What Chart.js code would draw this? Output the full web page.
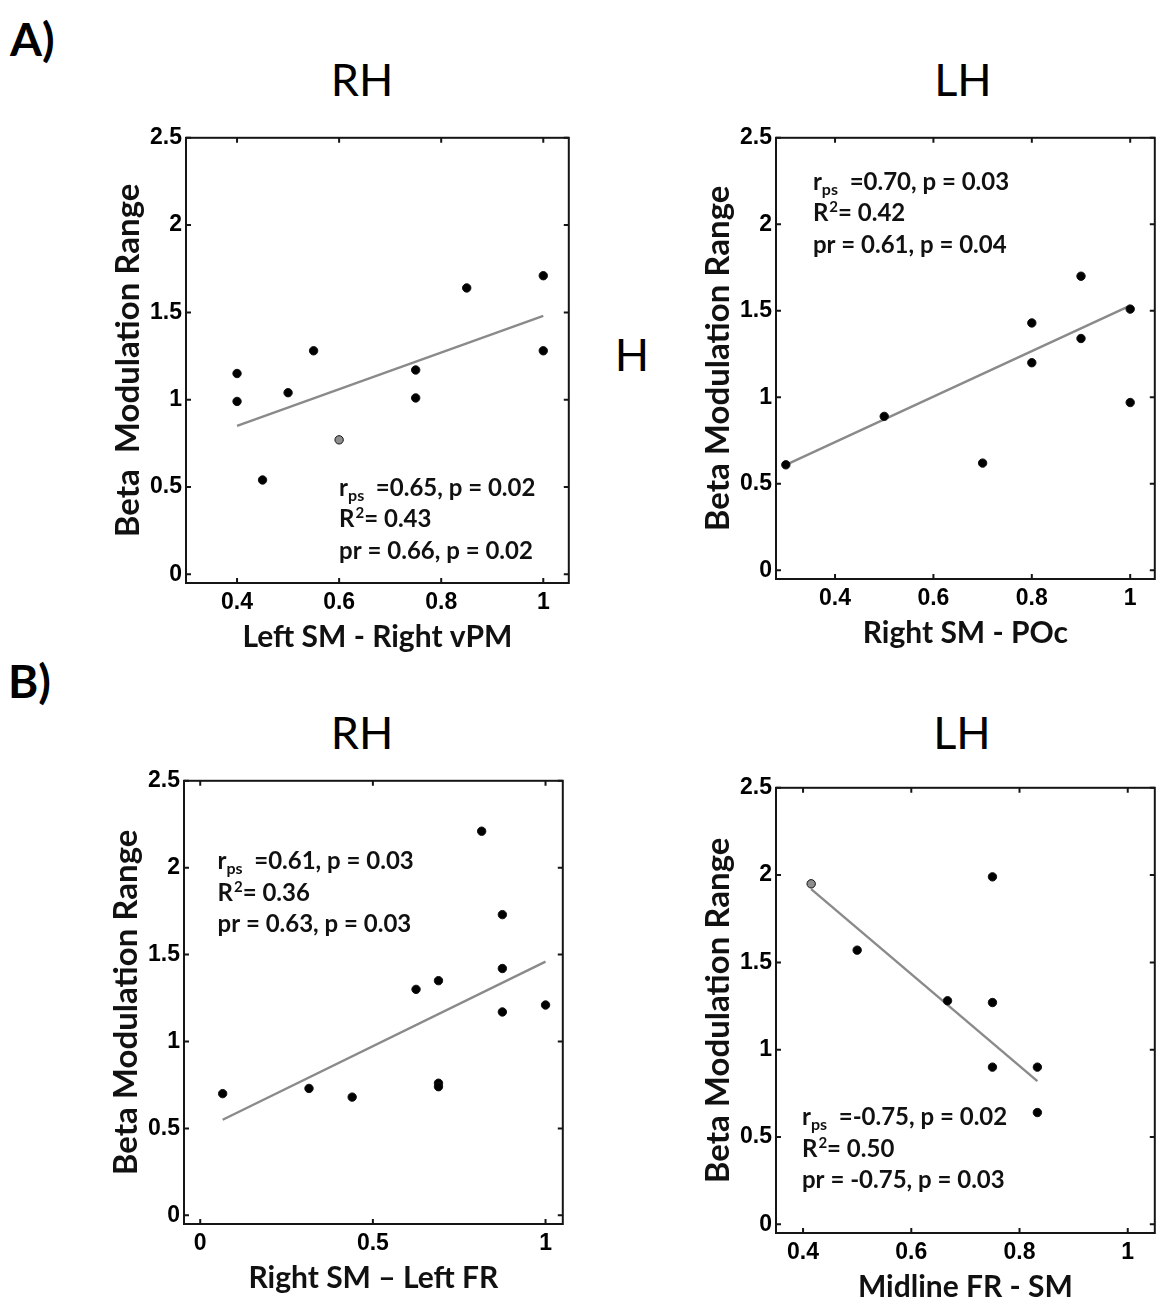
<!DOCTYPE html>
<html>
<head>
<meta charset="utf-8">
<script src="https://cdn.jsdelivr.net/npm/chart.js@4.4.0/dist/chart.umd.min.js"></script>
<style>
  body { margin: 0; background: #fff; width: 1160px; height: 1307px; position: relative; overflow: hidden; }
  .lbl { position: absolute; font-family: Lato, sans-serif; color: #000; line-height: 1; white-space: nowrap; }
  .big { font-weight: bold; font-size: 46px; }
  .hemi { font-size: 45px; transform: translateX(-50%); }
  .panel { position: absolute; }
</style>
</head>
<body>

<div class="lbl big" style="left:10px; top:16px;">A)</div>
<div class="lbl hemi" style="left:362px; top:57px;">RH</div>
<div class="lbl hemi" style="left:963px; top:57px;">LH</div>
<div class="lbl hemi" style="left:632px; top:332px;">H</div>

<div class="lbl big" style="left:8px; top:658px;">B)</div>
<div class="lbl hemi" style="left:362px; top:710px;">RH</div>
<div class="lbl hemi" style="left:962px; top:710px;">LH</div>

<div class="panel" id="p1"><canvas id="c1"></canvas></div>
<div class="panel" id="p2"><canvas id="c2"></canvas></div>
<div class="panel" id="p3"><canvas id="c3"></canvas></div>
<div class="panel" id="p4"><canvas id="c4"></canvas></div>

<script>
// ---- data ----
var yTicks = [0, 0.5, 1, 1.5, 2, 2.5];

// A) RH : Left SM - Right vPM
var aRH_x = [0.4, 0.4, 0.45, 0.5, 0.55, 0.6, 0.75, 0.75, 0.85, 1, 1];
var aRH_y = [1.15, 0.99, 0.54, 1.04, 1.28, 0.77, 1.17, 1.01, 1.64, 1.71, 1.28];
var aRH_grey = [5];
var aRH_fitX = [0.4, 1];
var aRH_fitY = [0.85, 1.48];
var aRH_xTicks = [0.4, 0.6, 0.8, 1];
var aRH_stats = ['0.65, p = 0.02', '0.43', '0.66, p = 0.02'];

// A) LH : Right SM - POc
var aLH_x = [0.3, 0.5, 0.7, 0.8, 0.8, 0.9, 0.9, 1, 1];
var aLH_y = [0.61, 0.89, 0.62, 1.43, 1.2, 1.7, 1.34, 1.51, 0.97];
var aLH_grey = [];
var aLH_fitX = [0.3, 1];
var aLH_fitY = [0.61, 1.53];
var aLH_xTicks = [0.4, 0.6, 0.8, 1];
var aLH_stats = ['0.70, p = 0.03', '0.42', '0.61, p = 0.04'];

// B) RH : Right SM - Left FR
var bRH_x = [0.065, 0.315, 0.44, 0.625, 0.69, 0.69, 0.69, 0.815, 0.875, 0.875, 0.875, 1];
var bRH_y = [0.7, 0.73, 0.68, 1.3, 1.35, 0.76, 0.74, 2.21, 1.73, 1.42, 1.17, 1.21];
var bRH_grey = [];
var bRH_fitX = [0.065, 1];
var bRH_fitY = [0.55, 1.46];
var bRH_xTicks = [0, 0.5, 1];
var bRH_stats = ['0.61, p = 0.03', '0.36', '0.63, p = 0.03'];

// B) LH : Midline FR - SM
var bLH_x = [0.415, 0.5, 0.667, 0.75, 0.75, 0.75, 0.833, 0.833];
var bLH_y = [1.95, 1.57, 1.28, 1.99, 1.27, 0.9, 0.9, 0.64];
var bLH_grey = [0];
var bLH_fitX = [0.415, 0.833];
var bLH_fitY = [1.92, 0.82];
var bLH_xTicks = [0.4, 0.6, 0.8, 1];
var bLH_stats = ['-0.75, p = 0.02', '0.50', '-0.75, p = 0.03'];

var fontTick = { family: 'Liberation Sans, Arial, sans-serif', size: 23, weight: 'bold' };
var fontXTitle = { family: 'Lato, sans-serif', size: 30, weight: 'bold', lineHeight: 1.2 };
var fontYTitle = { family: 'Lato, sans-serif', size: 33, weight: 'bold', lineHeight: 1.2 };
var fontStats = 'bold 24px Lato, sans-serif';

// frame with inward ticks on all four sides + the stats text
function panelPlugin(stats, at) {
  return {
    id: 'panelFrame',
    afterDraw: function(chart) {
      var ctx = chart.ctx, a = chart.chartArea;
      var xs = chart.scales.x, ys = chart.scales.y;
      ctx.save();
      ctx.strokeStyle = '#151515';
      ctx.lineWidth = 2;
      ctx.strokeRect(a.left, a.top, a.right - a.left, a.bottom - a.top);
      ctx.beginPath();
      xs.ticks.forEach(function(t) {
        var px = xs.getPixelForValue(t.value);
        ctx.moveTo(px, a.bottom); ctx.lineTo(px, a.bottom - 5);
        ctx.moveTo(px, a.top); ctx.lineTo(px, a.top + 5);
      });
      ys.ticks.forEach(function(t) {
        var py = ys.getPixelForValue(t.value);
        ctx.moveTo(a.left, py); ctx.lineTo(a.left + 5, py);
        ctx.moveTo(a.right, py); ctx.lineTo(a.right - 5, py);
      });
      ctx.stroke();

      // stats
      var x0 = xs.getPixelForValue(at[0]);
      var y0 = ys.getPixelForValue(at[1]);
      var gap = 31.5;
      ctx.fillStyle = '#111';
      ctx.textBaseline = 'alphabetic';
      ctx.textAlign = 'left';
      ctx.font = fontStats;
      var x = x0;
      ctx.fillText('r', x, y0); x += ctx.measureText('r').width;
      ctx.font = 'bold 16px Lato, sans-serif';
      ctx.fillText('ps', x, y0 + 5); x += ctx.measureText('ps').width;
      ctx.font = fontStats;
      ctx.fillText('  =' + stats[0], x, y0);
      x = x0;
      ctx.fillText('R', x, y0 + gap); x += ctx.measureText('R').width;
      ctx.font = 'bold 15px Lato, sans-serif';
      ctx.fillText('2', x + 1, y0 + gap - 9); x += ctx.measureText('2').width + 1;
      ctx.font = fontStats;
      ctx.fillText('= ' + stats[1], x, y0 + gap);
      ctx.fillText('pr = ' + stats[2], x0, y0 + 2 * gap);
      ctx.restore();
    }
  };
}

function makePanel(id, box, xs, ys, grey, fitX, fitY, xTicks, xMin, xMax, xTitle, yTitle, stats, at) {
  var wrap = document.getElementById('p' + id);
  wrap.style.left = box[0] + 'px';
  wrap.style.top = box[1] + 'px';
  wrap.style.width = box[2] + 'px';
  wrap.style.height = box[3] + 'px';

  var pts = xs.map(function(v, i) { return { x: v, y: ys[i] }; });
  var fill = xs.map(function(v, i) { return grey.indexOf(i) >= 0 ? '#8e8e8e' : '#000'; });
  var fit = fitX.map(function(v, i) { return { x: v, y: fitY[i] }; });

  new Chart(document.getElementById('c' + id), {
    type: 'scatter',
    data: {
      datasets: [
        {
          type: 'line', data: fit, borderColor: '#8a8a8a', borderWidth: 2.4,
          pointRadius: 0, fill: false, order: 2
        },
        {
          data: pts, pointRadius: 4.2, pointHoverRadius: 4.2,
          pointBackgroundColor: fill, pointBorderColor: '#111', pointBorderWidth: 1, order: 1
        }
      ]
    },
    options: {
      responsive: true,
      maintainAspectRatio: false,
      animation: false,
      events: [],
      layout: { padding: { top: 13, right: 2, left: 0, bottom: 0 } },
      plugins: { legend: { display: false }, tooltip: { enabled: false } },
      scales: {
        x: {
          type: 'linear', min: xMin, max: xMax,
          afterBuildTicks: function(s) { s.ticks = xTicks.map(function(v) { return { value: v }; }); },
          afterFit: function(s) { s.height = 77; },
          grid: { display: false, drawTicks: false },
          border: { display: false },
          ticks: { color: '#000', font: fontTick, padding: 6, maxRotation: 0,
                   callback: function(v) { return String(v); } },
          title: { display: true, text: xTitle, color: '#111', font: fontXTitle, padding: { top: 0, bottom: 5 } }
        },
        y: {
          type: 'linear', min: -0.05, max: 2.5,
          afterBuildTicks: function(s) { s.ticks = yTicks.map(function(v) { return { value: v }; }); },
          afterFit: function(s) { s.width = 86; },
          grid: { display: false, drawTicks: false },
          border: { display: false },
          ticks: { color: '#000', font: fontTick, padding: 4,
                   callback: function(v) { return String(v); } },
          title: { display: true, text: yTitle, color: '#111', font: fontYTitle, padding: { top: 9, bottom: 0 } }
        }
      }
    },
    plugins: [panelPlugin(stats, at)]
  });
}

makePanel(1, [100, 120, 474, 540], aRH_x, aRH_y, aRH_grey, aRH_fitX, aRH_fitY, aRH_xTicks, 0.3, 1.05,
  'Left SM - Right vPM', 'Beta  Modulation Range', aRH_stats, [0.6, 0.45]);
makePanel(2, [690, 120, 470, 536], aLH_x, aLH_y, aLH_grey, aLH_fitX, aLH_fitY, aLH_xTicks, 0.28, 1.05,
  'Right SM - POc', 'Beta Modulation Range', aLH_stats, [0.355, 2.2]);
makePanel(3, [98, 763, 470, 538], bRH_x, bRH_y, bRH_grey, bRH_fitX, bRH_fitY, bRH_xTicks, -0.047, 1.05,
  'Right SM \u2013 Left FR', 'Beta Modulation Range', bRH_stats, [0.05, 1.99]);
makePanel(4, [690, 770, 470, 540], bLH_x, bLH_y, bLH_grey, bLH_fitX, bLH_fitY, bLH_xTicks, 0.35, 1.05,
  'Midline FR - SM', 'Beta Modulation Range', bLH_stats, [0.398, 0.566]);
</script>
</body>
</html>
